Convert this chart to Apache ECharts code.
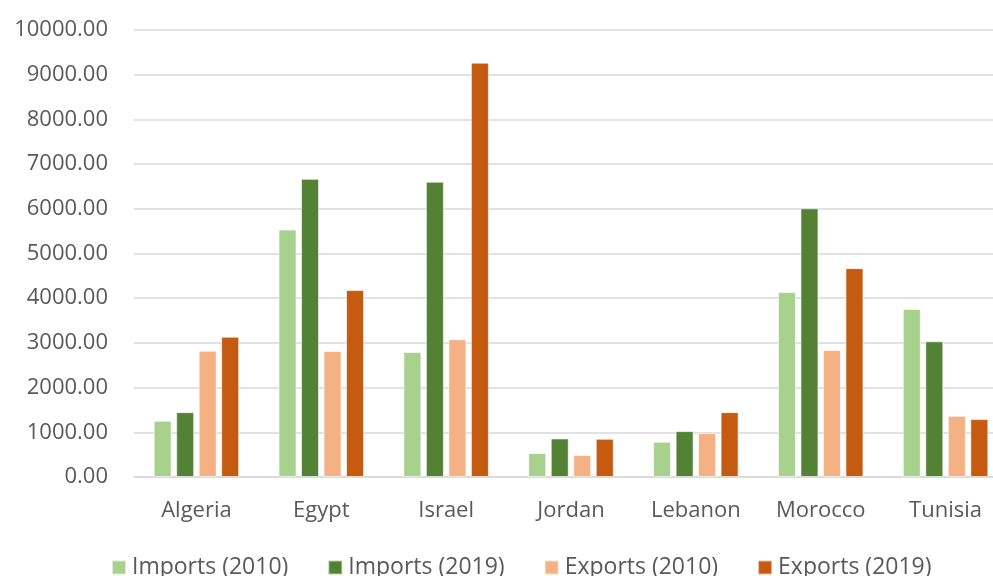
<!DOCTYPE html>
<html><head><meta charset="utf-8">
<script src="https://cdn.jsdelivr.net/npm/echarts@6/dist/echarts.min.js"></script>
<style>html,body{margin:0;padding:0;background:#fff;overflow:hidden;width:993px;height:576px}#c{width:1008px;height:576px}</style>
</head><body><div id="c"></div>
<script>
var categories = ['Algeria','Egypt','Israel','Jordan','Lebanon','Morocco','Tunisia'];
var imports2010 = [1257, 5536, 2797, 535, 788, 4136, 3757];
var imports2019 = [1451, 6670, 6607, 862, 1027, 6011, 3036];
var exports2010 = [2826, 2819, 3080, 491, 982, 2841, 1368];
var exports2019 = [3139, 4181, 9270, 855, 1451, 4672, 1295];
var seriesNames = ['Imports (2010)','Imports (2019)','Exports (2010)','Exports (2019)'];
var colors = ['#A9D18E','#548235','#F4B183','#C55A11'];
var values = [imports2010, imports2019, exports2010, exports2019];

var chart = echarts.init(document.getElementById('c'));
var font = 'Open Sans, Noto Sans, sans-serif';
chart.setOption({
  animation: false,
  color: colors,
  grid: {left: 134, top: 30, right: 0, bottom: 99, containLabel: false},
  legend: {
    top: 551, left: 106, itemWidth: 14, itemHeight: 14, itemGap: 39, icon: 'rect',
    textStyle: {fontSize: 23, color: '#595959', fontFamily: font, padding: [0,0,0,1]}
  },
  xAxis: {
    type: 'category', data: categories,
    axisLine: {lineStyle: {color: '#d9d9d9', width: 1.5}},
    axisTick: {show: false},
    axisLabel: {fontSize: 22, color: '#595959', fontFamily: font, margin: 23}
  },
  yAxis: {
    type: 'value', min: 0, max: 10000, interval: 1000,
    axisLine: {show: false}, axisTick: {show: false},
    splitLine: {lineStyle: {color: '#d9d9d9', width: 1.5}},
    axisLabel: {fontSize: 22, color: '#595959', fontFamily: font, margin: 26,
      formatter: function(v){return v.toFixed(2);}}
  },
  series: values.map(function(d, i){
    return {name: seriesNames[i], type: 'bar', data: d, barWidth: 18, barGap: '25%',
      itemStyle: {color: colors[i], borderColor: 'rgba(255,255,255,0.6)', borderWidth: 1}};
  })
});
</script></body></html>
